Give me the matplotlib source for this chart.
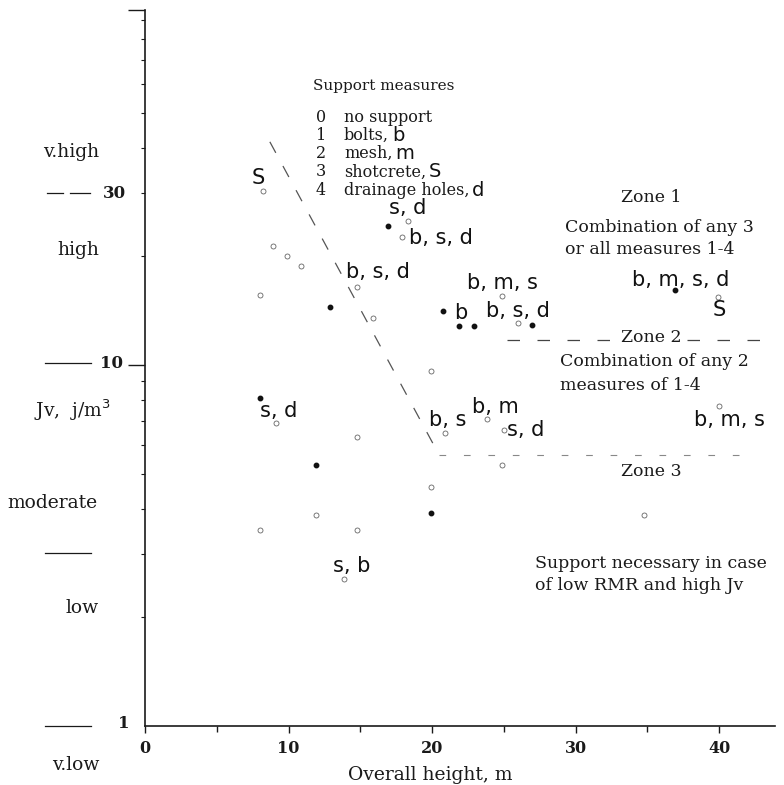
import numpy as np
import matplotlib.pyplot as plt
from matplotlib.ticker import FixedLocator, LogLocator, NullFormatter

# support cases: filled dots and open circles (height m, Jv joints/m3)
dot_x = [8.0, 11.9, 12.9, 16.9, 19.9, 20.8, 21.9, 22.9, 27.0, 36.9]
dot_y = [8.1, 5.3, 14.5, 24.3, 3.9, 14.1, 12.8, 12.8, 12.9, 16.1]

ring_x = [8.2, 8.9, 9.9, 10.9, 8.0, 14.8, 15.9, 18.3, 17.9, 24.9, 26.0, 39.9,
          19.9, 20.9, 23.8, 25.0, 40.0, 24.9, 19.9, 34.8, 9.1, 14.8, 11.9,
          8.0, 14.8, 13.9]
ring_y = [30.3, 21.3, 20.0, 18.8, 15.6, 16.4, 13.5, 25.0, 22.6, 15.5, 13.1, 15.4,
          9.6, 6.5, 7.1, 6.6, 7.7, 5.3, 4.6, 3.84, 6.9, 6.3, 3.84,
          3.49, 3.49, 2.55]

# measures written beside the cases
case_text = ["S", "s, d", "b, s, d", "b, s, d", "b, m, s", "b", "b, s, d",
             "b, m, s, d", "S", "b, s", "b, m", "s, d", "b, m, s", "s, d", "s, b"]
case_x = [7.9, 18.3, 20.6, 16.2, 24.9, 22.0, 26.0, 37.3, 40.0, 21.1, 24.4,
          26.5, 40.7, 9.3, 14.4]
case_y = [33.0, 27.2, 22.5, 18.1, 16.9, 13.9, 14.1, 17.2, 14.2, 7.04, 7.65,
          6.61, 7.04, 7.46, 2.77]

# zone boundaries
diag_x = [8.7, 20.5]
diag_y = [41.5, 5.63]
zone2_x = [25.2, 43.5]
zone2_y = [11.7, 11.7]
zone3_x = [20.5, 41.5]
zone3_y = [5.63, 5.63]

legend_num = ["0", "1", "2", "3", "4"]
legend_txt = ["no support", "bolts,", "mesh,", "shotcrete,", "drainage holes,"]
legend_sym = ["", "b", "m", "S", "d"]

jv_bounds = [1, 3, 10, 30]
jv_classes = ["v.low", "low", "moderate", "high", "v.high"]

W, H = 784, 785
fig = plt.figure(figsize=(W / 100, H / 100), dpi=100)
ax = fig.add_axes([145 / W, 1 - 726 / H, 630 / W, 716 / H])

SERIF = "DejaVu Serif"
SANS = "DejaVu Sans"
ink = "#1a1a1a"

ax.set_yscale("log")
ax.set_xlim(0, 43.9)
ax.set_ylim(1, 96.2)

for s in ["top", "right"]:
    ax.spines[s].set_visible(False)
for s in ["left", "bottom"]:
    ax.spines[s].set_linewidth(1.2)
    ax.spines[s].set_color(ink)

ax.xaxis.set_major_locator(FixedLocator([0, 10, 20, 30, 40]))
ax.xaxis.set_minor_locator(FixedLocator([5, 15, 25, 35]))
ax.tick_params(axis="x", which="major", length=5, width=1, pad=5, colors=ink,
               labelsize=11.5)
ax.tick_params(axis="x", which="minor", length=4, width=1, colors=ink)
for lab in ax.get_xticklabels():
    lab.set_fontfamily(SERIF)
    lab.set_fontweight("bold")

ax.yaxis.set_major_locator(FixedLocator([10, 96.2]))
ax.yaxis.set_minor_locator(LogLocator(base=10, subs=np.arange(2, 10)))
ax.yaxis.set_major_formatter(NullFormatter())
ax.yaxis.set_minor_formatter(NullFormatter())
ax.tick_params(axis="y", which="major", length=12, width=1, colors=ink)
ax.tick_params(axis="y", which="minor", length=3, width=0.8, colors=ink)

# zone lines
ax.plot(diag_x, diag_y, color="#555", lw=0.9, dashes=(10, 12))
ax.plot(zone2_x, zone2_y, color="#444", lw=0.9, dashes=(10, 14))
ax.plot(zone3_x, zone3_y, color="#888", lw=0.8, dashes=(6, 16))

# cases
ax.plot(dot_x, dot_y, "o", ms=3.2, color="#111", mec="#111", zorder=4)
ax.plot(ring_x, ring_y, "o", ms=3.6, mfc="white", mec="#666", mew=0.6, zorder=4)

for t, x, y in zip(case_text, case_x, case_y):
    ax.text(x, y, t, family=SANS, fontsize=15, color="#111",
            ha="center", va="center", zorder=5)


def fig_text(px, py, s, **kw):
    kw.setdefault("family", SERIF)
    kw.setdefault("fontsize", 12.5)
    kw.setdefault("color", ink)
    return fig.text(px / W, 1 - py / H, s, **kw)


# legend block
fig_text(313, 86, "Support measures", ha="left", va="center", fontsize=11)
for i, (n, t, sym) in enumerate(zip(legend_num, legend_txt, legend_sym)):
    py = 117 + i * 18.3
    fig_text(316, py, n, ha="left", va="center", fontsize=11.5)
    tt = fig_text(344, py, t, ha="left", va="center", fontsize=11.5)
    if sym:
        ax.annotate(sym, xy=(1, 0.5), xycoords=tt, xytext=(2, 0),
                    textcoords="offset points", family=SANS, fontsize=14,
                    ha="left", va="center", color="#111")

# zone descriptions
fig_text(651, 197, "Zone 1", ha="center", va="center")
fig_text(565, 227, "Combination of any 3", ha="left", va="center")
fig_text(565, 249, "or all measures 1-4", ha="left", va="center")
fig_text(651, 338, "Zone 2", ha="center", va="center",
         bbox=dict(facecolor="white", edgecolor="none", pad=4))
fig_text(560, 362, "Combination of any 2", ha="left", va="center")
fig_text(560, 385, "measures of 1-4", ha="left", va="center")
fig_text(651, 472, "Zone 3", ha="center", va="center")
fig_text(535, 563, "Support necessary in case", ha="left", va="center")
fig_text(535, 585, "of low RMR and high Jv", ha="left", va="center")

# Jv scale on the left
fig_text(99, 152, jv_classes[4], ha="right", va="center", fontsize=13.5)
fig_text(99, 250, jv_classes[3], ha="right", va="center", fontsize=13.5)
fig_text(111, 410, "Jv,  j/m$^3$", ha="right", va="center", fontsize=13.5)
fig_text(97, 503, jv_classes[2], ha="right", va="center", fontsize=13.5)
fig_text(99, 608, jv_classes[1], ha="right", va="center", fontsize=13.5)
fig_text(99, 765, jv_classes[0], ha="right", va="center", fontsize=13.5)

bound_px = {1: 726, 3: 553, 10: 363, 30: 193}
for b in jv_bounds:
    py = bound_px[b]
    y = 1 - py / H
    if b == 30:
        fig.add_artist(plt.Line2D([47 / W, 63 / W], [y, y], color=ink, lw=0.9))
        fig.add_artist(plt.Line2D([70 / W, 90 / W], [y, y], color=ink, lw=0.9))
    else:
        fig.add_artist(plt.Line2D([45 / W, 91 / W], [y, y], color=ink, lw=0.9))
fig_text(103, 193, "30", ha="left", va="center", weight="bold", fontsize=12)
fig_text(100, 363, "10", ha="left", va="center", weight="bold", fontsize=12)
fig_text(118, 724, "1", ha="left", va="center", weight="bold", fontsize=12)

fig_text(430, 775, "Overall height, m", ha="center", va="center", fontsize=13.5)

fig.savefig("out.png", dpi=100)
